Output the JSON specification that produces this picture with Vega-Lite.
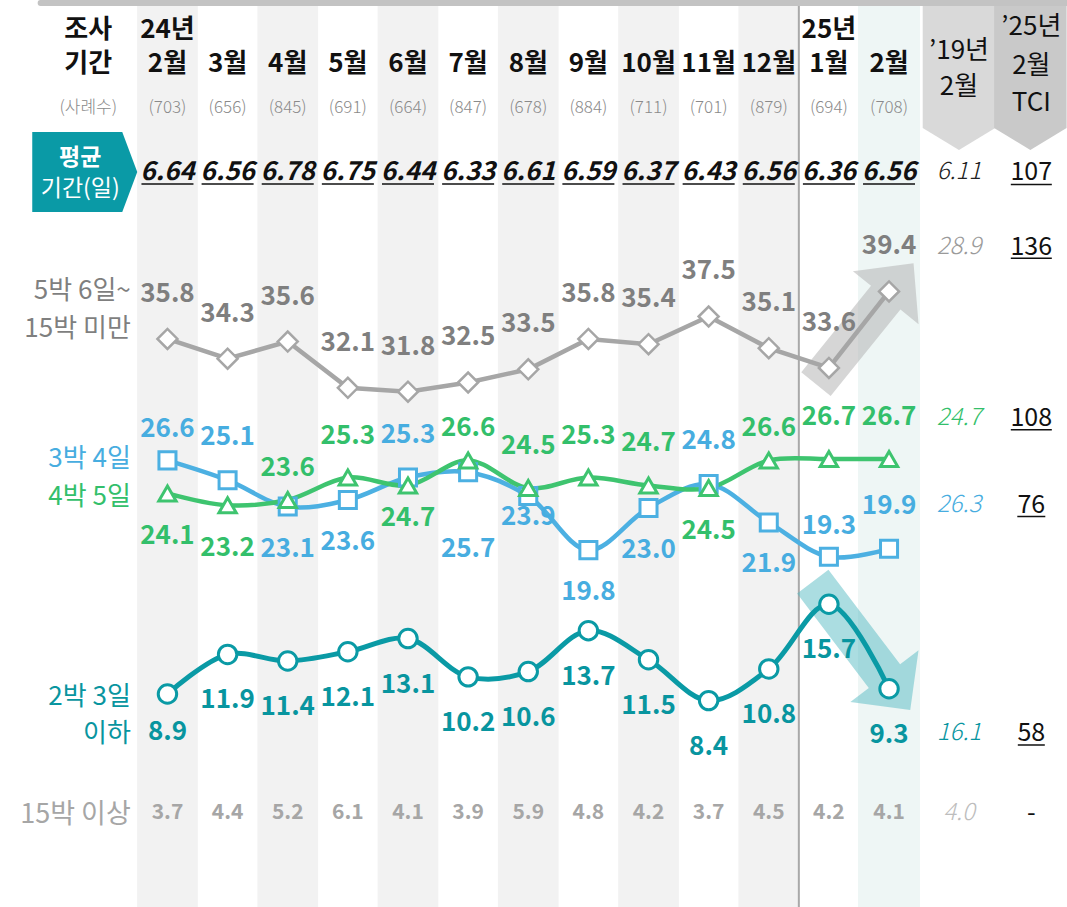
{
"$schema": "https://vega.github.io/schema/vega-lite/v6.json",
"width": 1067, "height": 907,
"autosize": {"type": "none"},
"padding": 0,
"background": "white",
"config": {"view": {"stroke": null}, "axis": {"disable": true}, "text": {"font": "Noto Sans CJK KR", "baseline": "middle"}},
"datasets": {
"months": [
{"i":0,"top":"24년","mon":"2월","n":703,"avg":6.64,"long":3.7},
{"i":1,"top":"","mon":"3월","n":656,"avg":6.56,"long":4.4},
{"i":2,"top":"","mon":"4월","n":845,"avg":6.78,"long":5.2},
{"i":3,"top":"","mon":"5월","n":691,"avg":6.75,"long":6.1},
{"i":4,"top":"","mon":"6월","n":664,"avg":6.44,"long":4.1},
{"i":5,"top":"","mon":"7월","n":847,"avg":6.33,"long":3.9},
{"i":6,"top":"","mon":"8월","n":678,"avg":6.61,"long":5.9},
{"i":7,"top":"","mon":"9월","n":884,"avg":6.59,"long":4.8},
{"i":8,"top":"","mon":"10월","n":711,"avg":6.37,"long":4.2},
{"i":9,"top":"","mon":"11월","n":701,"avg":6.43,"long":3.7},
{"i":10,"top":"","mon":"12월","n":879,"avg":6.56,"long":4.5},
{"i":11,"top":"25년","mon":"1월","n":694,"avg":6.36,"long":4.2},
{"i":12,"top":"","mon":"2월","n":708,"avg":6.56,"long":4.1}
],
"series": [
{"s":"5박 6일~15박 미만","i":0,"v":35.8},{"s":"5박 6일~15박 미만","i":1,"v":34.3},{"s":"5박 6일~15박 미만","i":2,"v":35.6},{"s":"5박 6일~15박 미만","i":3,"v":32.1},{"s":"5박 6일~15박 미만","i":4,"v":31.8},{"s":"5박 6일~15박 미만","i":5,"v":32.5},{"s":"5박 6일~15박 미만","i":6,"v":33.5},{"s":"5박 6일~15박 미만","i":7,"v":35.8},{"s":"5박 6일~15박 미만","i":8,"v":35.4},{"s":"5박 6일~15박 미만","i":9,"v":37.5},{"s":"5박 6일~15박 미만","i":10,"v":35.1},{"s":"5박 6일~15박 미만","i":11,"v":33.6},{"s":"5박 6일~15박 미만","i":12,"v":39.4},
{"s":"3박 4일","i":0,"v":26.6},{"s":"3박 4일","i":1,"v":25.1},{"s":"3박 4일","i":2,"v":23.1},{"s":"3박 4일","i":3,"v":23.6},{"s":"3박 4일","i":4,"v":25.3},{"s":"3박 4일","i":5,"v":25.7},{"s":"3박 4일","i":6,"v":23.9},{"s":"3박 4일","i":7,"v":19.8},{"s":"3박 4일","i":8,"v":23.0},{"s":"3박 4일","i":9,"v":24.8},{"s":"3박 4일","i":10,"v":21.9},{"s":"3박 4일","i":11,"v":19.3},{"s":"3박 4일","i":12,"v":19.9},
{"s":"4박 5일","i":0,"v":24.1},{"s":"4박 5일","i":1,"v":23.2},{"s":"4박 5일","i":2,"v":23.6},{"s":"4박 5일","i":3,"v":25.3},{"s":"4박 5일","i":4,"v":24.7},{"s":"4박 5일","i":5,"v":26.6},{"s":"4박 5일","i":6,"v":24.5},{"s":"4박 5일","i":7,"v":25.3},{"s":"4박 5일","i":8,"v":24.7},{"s":"4박 5일","i":9,"v":24.5},{"s":"4박 5일","i":10,"v":26.6},{"s":"4박 5일","i":11,"v":26.7},{"s":"4박 5일","i":12,"v":26.7},
{"s":"2박 3일 이하","i":0,"v":8.9},{"s":"2박 3일 이하","i":1,"v":11.9},{"s":"2박 3일 이하","i":2,"v":11.4},{"s":"2박 3일 이하","i":3,"v":12.1},{"s":"2박 3일 이하","i":4,"v":13.1},{"s":"2박 3일 이하","i":5,"v":10.2},{"s":"2박 3일 이하","i":6,"v":10.6},{"s":"2박 3일 이하","i":7,"v":13.7},{"s":"2박 3일 이하","i":8,"v":11.5},{"s":"2박 3일 이하","i":9,"v":8.4},{"s":"2박 3일 이하","i":10,"v":10.8},{"s":"2박 3일 이하","i":11,"v":15.7},{"s":"2박 3일 이하","i":12,"v":9.3}
],
"cmp": [
{"row":"평균 기간(일)","y2019":6.11,"tci":107},
{"row":"5박 6일~15박 미만","y2019":28.9,"tci":136},
{"row":"4박 5일","y2019":24.7,"tci":108},
{"row":"3박 4일","y2019":26.3,"tci":76},
{"row":"2박 3일 이하","y2019":16.1,"tci":58},
{"row":"15박 이상","y2019":4.0,"tci":"-"}
]
},
"layer": [
{"data":{"name":"months"},"transform":[{"filter":"datum.i % 2 == 0 && datum.i <= 10"}],"mark":{"type":"bar","width":60.7,"color":"#f2f2f2"},"encoding":{"x":{"field":"i","type":"quantitative","scale":{"type":"linear","domain":[-2.7018,14.8764],"nice":false,"zero":false}},"y":{"datum":61.02,"type":"quantitative","scale":{"type":"linear","domain":[-7.235,61.477],"nice":false,"zero":false}},"y2":{"datum":-7.3}}},
{"data":{"name":"months"},"transform":[{"filter":"datum.i == 12"}],"mark":{"type":"bar","width":62,"color":"#eef6f5"},"encoding":{"x":{"field":"i","type":"quantitative"},"y":{"datum":61.02,"type":"quantitative"},"y2":{"datum":-7.3}}},
{"data":{"values":[{}]},"mark":{"type":"rule","color":"#a9a9a9","strokeWidth":2},"encoding":{"x":{"datum":10.5,"type":"quantitative"},"y":{"datum":61.02,"type":"quantitative"},"y2":{"datum":-7.3}}},
{"data":{"values":[{}]},"mark":{"type":"point","shape":"M-0.5,-1L0.5,-1L0.5,0.697L0,1L-0.5,0.697Z","filled":true,"color":"#d9d9d9","opacity":1,"size":21025,"strokeWidth":0},"encoding":{"x":{"datum":13.163,"type":"quantitative"},"y":{"datum":55.606,"type":"quantitative"}}},
{"data":{"values":[{}]},"mark":{"type":"point","shape":"M-0.5,-1L0.5,-1L0.5,0.697L0,1L-0.5,0.697Z","filled":true,"color":"#c9c9c9","opacity":1,"size":21025,"strokeWidth":0},"encoding":{"x":{"datum":14.35,"type":"quantitative"},"y":{"datum":55.606,"type":"quantitative"}}},
{"data":{"values":[{}]},"mark":{"type":"rule","color":"#c3c3c3","strokeWidth":6,"strokeCap":"round"},"encoding":{"x":{"datum":-2.109,"type":"quantitative"},"x2":{"datum":15.2},"y":{"datum":61.25,"type":"quantitative"}}},
{"data":{"values":[{}]},"mark":{"type":"point","shape":"M-1,-0.762L0.714,-0.762L1,0L0.714,0.762L-1,0.762Z","filled":true,"color":"#0a9aa6","opacity":1,"size":11025,"strokeWidth":0},"encoding":{"x":{"datum":-1.3756,"type":"quantitative"},"y":{"datum":48.447,"type":"quantitative"}}},
{"data":{"values":[{}]},"mark":{"type":"point","shape":"M0,-1L0.543,-0.43L0.243,-0.43L0.243,1L-0.243,1L-0.243,-0.43L-0.543,-0.43Z","filled":true,"color":"#b5b5b5","opacity":0.55,"size":24149,"angle":38.9,"strokeWidth":0},"encoding":{"x":{"datum":11.596,"type":"quantitative"},"y":{"datum":36.955,"type":"quantitative"}}},
{"data":{"values":[{}]},"mark":{"type":"point","shape":"M0,-1L0.531,-0.471L0.244,-0.471L0.244,1L-0.244,1L-0.244,-0.471L-0.531,-0.471Z","filled":true,"color":"#4fb7c0","opacity":0.48,"size":25985,"angle":142.8,"strokeWidth":0},"encoding":{"x":{"datum":11.542,"type":"quantitative"},"y":{"datum":12.545,"type":"quantitative"}}},

{"data":{"name":"series"},"transform":[{"filter":{"field":"s","equal":"5박 6일~15박 미만"}}],"mark":{"type":"line","color":"#a6a6a6","strokeWidth":4.5,"interpolate":"linear"},"encoding":{"x":{"field":"i","type":"quantitative"},"y":{"field":"v","type":"quantitative"}}},
{"data":{"name":"series"},"transform":[{"filter":{"field":"s","equal":"3박 4일"}}],"mark":{"type":"line","color":"#4cb0e2","strokeWidth":4.5,"interpolate":"catmull-rom"},"encoding":{"x":{"field":"i","type":"quantitative"},"y":{"field":"v","type":"quantitative"}}},
{"data":{"name":"series"},"transform":[{"filter":{"field":"s","equal":"4박 5일"}}],"mark":{"type":"line","color":"#3ec46f","strokeWidth":4.5,"interpolate":"catmull-rom"},"encoding":{"x":{"field":"i","type":"quantitative"},"y":{"field":"v","type":"quantitative"}}},
{"data":{"name":"series"},"transform":[{"filter":{"field":"s","equal":"2박 3일 이하"}}],"mark":{"type":"line","color":"#0a9aa5","strokeWidth":5,"interpolate":"catmull-rom"},"encoding":{"x":{"field":"i","type":"quantitative"},"y":{"field":"v","type":"quantitative"}}},

{"data":{"name":"series"},"transform":[{"filter":{"field":"s","equal":"5박 6일~15박 미만"}}],"mark":{"type":"point","shape":"diamond","size":400,"filled":true,"fill":"white","stroke":"#a6a6a6","strokeWidth":2.5,"opacity":1},"encoding":{"x":{"field":"i","type":"quantitative"},"y":{"field":"v","type":"quantitative"}}},
{"data":{"name":"series"},"transform":[{"filter":{"field":"s","equal":"3박 4일"}}],"mark":{"type":"point","shape":"square","size":290,"filled":true,"fill":"white","stroke":"#4cb0e2","strokeWidth":3,"opacity":1},"encoding":{"x":{"field":"i","type":"quantitative"},"y":{"field":"v","type":"quantitative"}}},
{"data":{"name":"series"},"transform":[{"filter":{"field":"s","equal":"4박 5일"}}],"mark":{"type":"point","shape":"triangle-up","size":300,"filled":true,"fill":"white","stroke":"#3ec46f","strokeWidth":3,"opacity":1},"encoding":{"x":{"field":"i","type":"quantitative"},"y":{"field":"v","type":"quantitative"}}},
{"data":{"name":"series"},"transform":[{"filter":{"field":"s","equal":"2박 3일 이하"}}],"mark":{"type":"point","shape":"circle","size":340,"filled":true,"fill":"white","stroke":"#0a9aa5","strokeWidth":3,"opacity":1},"encoding":{"x":{"field":"i","type":"quantitative"},"y":{"field":"v","type":"quantitative"}}},

{"data":{"name":"series"},"transform":[{"filter":{"field":"s","equal":"5박 6일~15박 미만"}}],"mark":{"type":"text","dy":-45,"fontSize":26,"fontWeight":"bold","color":"#7f7f7f"},"encoding":{"x":{"field":"i","type":"quantitative"},"y":{"field":"v","type":"quantitative"},"text":{"field":"v","type":"quantitative","format":".1f"}}},
{"data":{"name":"series"},"transform":[{"filter":{"and":[{"field":"s","equal":"3박 4일"},{"field":"i","oneOf":[1,4,9,12]}]}}],"mark":{"type":"text","dy":-43,"fontSize":26,"fontWeight":"bold","color":"#47ade0"},"encoding":{"x":{"field":"i","type":"quantitative"},"y":{"field":"v","type":"quantitative"},"text":{"field":"v","type":"quantitative","format":".1f"}}},
{"data":{"name":"series"},"transform":[{"filter":{"and":[{"field":"s","equal":"3박 4일"},{"field":"i","oneOf":[0,11]}]}}],"mark":{"type":"text","dy":-31,"fontSize":26,"fontWeight":"bold","color":"#47ade0"},"encoding":{"x":{"field":"i","type":"quantitative"},"y":{"field":"v","type":"quantitative"},"text":{"field":"v","type":"quantitative","format":".1f"}}},
{"data":{"name":"series"},"transform":[{"filter":{"and":[{"field":"s","equal":"3박 4일"},{"field":"i","oneOf":[2,3,7,8,10]}]}}],"mark":{"type":"text","dy":42,"fontSize":26,"fontWeight":"bold","color":"#47ade0"},"encoding":{"x":{"field":"i","type":"quantitative"},"y":{"field":"v","type":"quantitative"},"text":{"field":"v","type":"quantitative","format":".1f"}}},
{"data":{"name":"series"},"transform":[{"filter":{"and":[{"field":"s","equal":"3박 4일"},{"field":"i","oneOf":[5]}]}}],"mark":{"type":"text","dy":77,"fontSize":26,"fontWeight":"bold","color":"#47ade0"},"encoding":{"x":{"field":"i","type":"quantitative"},"y":{"field":"v","type":"quantitative"},"text":{"field":"v","type":"quantitative","format":".1f"}}},
{"data":{"name":"series"},"transform":[{"filter":{"and":[{"field":"s","equal":"3박 4일"},{"field":"i","oneOf":[6]}]}}],"mark":{"type":"text","dy":21,"fontSize":26,"fontWeight":"bold","color":"#47ade0"},"encoding":{"x":{"field":"i","type":"quantitative"},"y":{"field":"v","type":"quantitative"},"text":{"field":"v","type":"quantitative","format":".1f"}}},
{"data":{"name":"series"},"transform":[{"filter":{"and":[{"field":"s","equal":"4박 5일"},{"field":"i","oneOf":[3,6,7,8,11,12]}]}}],"mark":{"type":"text","dy":-42,"fontSize":26,"fontWeight":"bold","color":"#33bf6b"},"encoding":{"x":{"field":"i","type":"quantitative"},"y":{"field":"v","type":"quantitative"},"text":{"field":"v","type":"quantitative","format":".1f"}}},
{"data":{"name":"series"},"transform":[{"filter":{"and":[{"field":"s","equal":"4박 5일"},{"field":"i","oneOf":[2,5,10]}]}}],"mark":{"type":"text","dy":-32,"fontSize":26,"fontWeight":"bold","color":"#33bf6b"},"encoding":{"x":{"field":"i","type":"quantitative"},"y":{"field":"v","type":"quantitative"},"text":{"field":"v","type":"quantitative","format":".1f"}}},
{"data":{"name":"series"},"transform":[{"filter":{"and":[{"field":"s","equal":"4박 5일"},{"field":"i","oneOf":[0,1,9]}]}}],"mark":{"type":"text","dy":43,"fontSize":26,"fontWeight":"bold","color":"#33bf6b"},"encoding":{"x":{"field":"i","type":"quantitative"},"y":{"field":"v","type":"quantitative"},"text":{"field":"v","type":"quantitative","format":".1f"}}},
{"data":{"name":"series"},"transform":[{"filter":{"and":[{"field":"s","equal":"4박 5일"},{"field":"i","oneOf":[4]}]}}],"mark":{"type":"text","dy":33,"fontSize":26,"fontWeight":"bold","color":"#33bf6b"},"encoding":{"x":{"field":"i","type":"quantitative"},"y":{"field":"v","type":"quantitative"},"text":{"field":"v","type":"quantitative","format":".1f"}}},
{"data":{"name":"series"},"transform":[{"filter":{"and":[{"field":"s","equal":"2박 3일 이하"},{"field":"i","oneOf":[1,2,3,4,5,6,7,8,9,10,11,12]}]}}],"mark":{"type":"text","dy":46,"fontSize":26,"fontWeight":"bold","color":"#08959f"},"encoding":{"x":{"field":"i","type":"quantitative"},"y":{"field":"v","type":"quantitative"},"text":{"field":"v","type":"quantitative","format":".1f"}}},
{"data":{"name":"series"},"transform":[{"filter":{"and":[{"field":"s","equal":"2박 3일 이하"},{"field":"i","oneOf":[0]}]}}],"mark":{"type":"text","dy":38,"fontSize":26,"fontWeight":"bold","color":"#08959f"},"encoding":{"x":{"field":"i","type":"quantitative"},"y":{"field":"v","type":"quantitative"},"text":{"field":"v","type":"quantitative","format":".1f"}}},

{"data":{"name":"months"},"transform":[{"filter":"datum.top != ''"}],"mark":{"type":"text","fontSize":26,"fontWeight":"bold","color":"#111111"},"encoding":{"x":{"field":"i","type":"quantitative"},"y":{"datum":59.2,"type":"quantitative"},"text":{"field":"top","type":"nominal"}}},
{"data":{"name":"months"},"mark":{"type":"text","fontSize":26,"fontWeight":"bold","color":"#111111"},"encoding":{"x":{"field":"i","type":"quantitative"},"y":{"datum":56.63,"type":"quantitative"},"text":{"field":"mon","type":"nominal"}}},
{"data":{"name":"months"},"transform":[{"calculate":"'(' + datum.n + ')'","as":"nLabel"}],"mark":{"type":"text","fontSize":17,"fontWeight":300,"color":"#8a8a8a"},"encoding":{"x":{"field":"i","type":"quantitative"},"y":{"datum":53.295,"type":"quantitative"},"text":{"field":"nLabel","type":"nominal"}}},
{"data":{"name":"months"},"mark":{"type":"text","fontSize":26,"fontWeight":"bold","fontStyle":"italic","color":"#111111"},"encoding":{"x":{"field":"i","type":"quantitative"},"y":{"datum":48.409,"type":"quantitative"},"text":{"field":"avg","type":"quantitative","format":".2f"}}},
{"data":{"name":"months"},"mark":{"type":"tick","orient":"horizontal","size":52,"thickness":1.5,"color":"#111111","opacity":1},"encoding":{"x":{"field":"i","type":"quantitative"},"y":{"datum":47.538,"type":"quantitative"}}},
{"data":{"name":"months"},"mark":{"type":"text","fontSize":21,"fontWeight":"bold","color":"#a6a6a6"},"encoding":{"x":{"field":"i","type":"quantitative"},"y":{"datum":-0.114,"type":"quantitative"},"text":{"field":"long","type":"quantitative","format":".1f"}}},

{"data":{"values":[{}]},"mark":{"type":"text","text":"조사","fontSize":26,"fontWeight":"bold","color":"#111111"},"encoding":{"x":{"datum":-1.318,"type":"quantitative"},"y":{"datum":59.2,"type":"quantitative"}}},
{"data":{"values":[{}]},"mark":{"type":"text","text":"기간","fontSize":26,"fontWeight":"bold","color":"#111111"},"encoding":{"x":{"datum":-1.318,"type":"quantitative"},"y":{"datum":56.63,"type":"quantitative"}}},
{"data":{"values":[{}]},"mark":{"type":"text","text":"(사례수)","fontSize":17,"fontWeight":300,"color":"#8a8a8a"},"encoding":{"x":{"datum":-1.318,"type":"quantitative"},"y":{"datum":53.295,"type":"quantitative"}}},
{"data":{"values":[{}]},"mark":{"type":"text","text":"평균","fontSize":23,"fontWeight":"bold","color":"white"},"encoding":{"x":{"datum":-1.45,"type":"quantitative"},"y":{"datum":49.508,"type":"quantitative"}}},
{"data":{"values":[{}]},"mark":{"type":"text","text":"기간(일)","fontSize":23,"fontWeight":"normal","color":"white"},"encoding":{"x":{"datum":-1.45,"type":"quantitative"},"y":{"datum":47.159,"type":"quantitative"}}},
{"data":{"values":[{}]},"mark":{"type":"text","text":"5박 6일~","align":"right","fontSize":26,"color":"#7f7f7f"},"encoding":{"x":{"datum":-0.6096,"type":"quantitative"},"y":{"datum":39.432,"type":"quantitative"}}},
{"data":{"values":[{}]},"mark":{"type":"text","text":"15박 미만","align":"right","fontSize":26,"color":"#7f7f7f"},"encoding":{"x":{"datum":-0.6096,"type":"quantitative"},"y":{"datum":36.553,"type":"quantitative"}}},
{"data":{"values":[{}]},"mark":{"type":"text","text":"3박 4일","align":"right","fontSize":26,"color":"#47ade0"},"encoding":{"x":{"datum":-0.6096,"type":"quantitative"},"y":{"datum":26.705,"type":"quantitative"}}},
{"data":{"values":[{}]},"mark":{"type":"text","text":"4박 5일","align":"right","fontSize":26,"color":"#33bf6b"},"encoding":{"x":{"datum":-0.6096,"type":"quantitative"},"y":{"datum":23.826,"type":"quantitative"}}},
{"data":{"values":[{}]},"mark":{"type":"text","text":"2박 3일","align":"right","fontSize":26,"color":"#08959f"},"encoding":{"x":{"datum":-0.6096,"type":"quantitative"},"y":{"datum":8.674,"type":"quantitative"}}},
{"data":{"values":[{}]},"mark":{"type":"text","text":"이하","align":"right","fontSize":26,"color":"#08959f"},"encoding":{"x":{"datum":-0.6096,"type":"quantitative"},"y":{"datum":5.871,"type":"quantitative"}}},
{"data":{"values":[{}]},"mark":{"type":"text","text":"15박 이상","align":"right","fontSize":27,"color":"#a6a6a6"},"encoding":{"x":{"datum":-0.6096,"type":"quantitative"},"y":{"datum":-0.265,"type":"quantitative"}}},

{"data":{"values":[{}]},"mark":{"type":"text","text":"’19년","fontSize":26,"color":"#111111"},"encoding":{"x":{"datum":13.163,"type":"quantitative"},"y":{"datum":57.6,"type":"quantitative"}}},
{"data":{"values":[{}]},"mark":{"type":"text","text":"2월","fontSize":26,"color":"#111111"},"encoding":{"x":{"datum":13.163,"type":"quantitative"},"y":{"datum":54.9,"type":"quantitative"}}},
{"data":{"values":[{}]},"mark":{"type":"text","text":"’25년","fontSize":26,"color":"#111111"},"encoding":{"x":{"datum":14.366,"type":"quantitative"},"y":{"datum":59.45,"type":"quantitative"}}},
{"data":{"values":[{}]},"mark":{"type":"text","text":"2월","fontSize":26,"color":"#111111"},"encoding":{"x":{"datum":14.366,"type":"quantitative"},"y":{"datum":56.5,"type":"quantitative"}}},
{"data":{"values":[{}]},"mark":{"type":"text","text":"TCI","fontSize":26,"color":"#111111"},"encoding":{"x":{"datum":14.366,"type":"quantitative"},"y":{"datum":53.67,"type":"quantitative"}}},

{"data":{"name":"cmp"},"transform":[{"filter":{"field":"row","equal":"평균 기간(일)"}}],"mark":{"type":"text","fontSize":24,"fontWeight":300,"fontStyle":"italic","color":"#222222"},"encoding":{"x":{"datum":13.163,"type":"quantitative"},"y":{"datum":48.409,"type":"quantitative"},"text":{"field":"y2019","type":"quantitative","format":".2f"}}},
{"data":{"name":"cmp"},"transform":[{"filter":{"field":"row","equal":"5박 6일~15박 미만"}}],"mark":{"type":"text","fontSize":24,"fontWeight":300,"fontStyle":"italic","color":"#9a9a9a"},"encoding":{"x":{"datum":13.163,"type":"quantitative"},"y":{"datum":42.788,"type":"quantitative"},"text":{"field":"y2019","type":"quantitative","format":".1f"}}},
{"data":{"name":"cmp"},"transform":[{"filter":{"field":"row","equal":"4박 5일"}}],"mark":{"type":"text","fontSize":24,"fontWeight":300,"fontStyle":"italic","color":"#33bf6b"},"encoding":{"x":{"datum":13.163,"type":"quantitative"},"y":{"datum":29.788,"type":"quantitative"},"text":{"field":"y2019","type":"quantitative","format":".1f"}}},
{"data":{"name":"cmp"},"transform":[{"filter":{"field":"row","equal":"3박 4일"}}],"mark":{"type":"text","fontSize":24,"fontWeight":300,"fontStyle":"italic","color":"#47ade0"},"encoding":{"x":{"datum":13.163,"type":"quantitative"},"y":{"datum":23.22,"type":"quantitative"},"text":{"field":"y2019","type":"quantitative","format":".1f"}}},
{"data":{"name":"cmp"},"transform":[{"filter":{"field":"row","equal":"2박 3일 이하"}}],"mark":{"type":"text","fontSize":24,"fontWeight":300,"fontStyle":"italic","color":"#08959f"},"encoding":{"x":{"datum":13.163,"type":"quantitative"},"y":{"datum":5.924,"type":"quantitative"},"text":{"field":"y2019","type":"quantitative","format":".1f"}}},
{"data":{"name":"cmp"},"transform":[{"filter":{"field":"row","equal":"15박 이상"}}],"mark":{"type":"text","fontSize":24,"fontWeight":300,"fontStyle":"italic","color":"#bdbdbd"},"encoding":{"x":{"datum":13.163,"type":"quantitative"},"y":{"datum":-0.136,"type":"quantitative"},"text":{"field":"y2019","type":"quantitative","format":".1f"}}},

{"data":{"name":"cmp"},"transform":[{"filter":{"field":"row","equal":"평균 기간(일)"}}],"mark":{"type":"text","fontSize":25,"color":"#111111"},"encoding":{"x":{"datum":14.366,"type":"quantitative"},"y":{"datum":48.409,"type":"quantitative"},"text":{"field":"tci","type":"nominal"}}},
{"data":{"name":"cmp"},"transform":[{"filter":{"field":"row","equal":"5박 6일~15박 미만"}}],"mark":{"type":"text","fontSize":25,"color":"#111111"},"encoding":{"x":{"datum":14.366,"type":"quantitative"},"y":{"datum":42.788,"type":"quantitative"},"text":{"field":"tci","type":"nominal"}}},
{"data":{"name":"cmp"},"transform":[{"filter":{"field":"row","equal":"4박 5일"}}],"mark":{"type":"text","fontSize":25,"color":"#111111"},"encoding":{"x":{"datum":14.366,"type":"quantitative"},"y":{"datum":29.788,"type":"quantitative"},"text":{"field":"tci","type":"nominal"}}},
{"data":{"name":"cmp"},"transform":[{"filter":{"field":"row","equal":"3박 4일"}}],"mark":{"type":"text","fontSize":25,"color":"#111111"},"encoding":{"x":{"datum":14.366,"type":"quantitative"},"y":{"datum":23.22,"type":"quantitative"},"text":{"field":"tci","type":"nominal"}}},
{"data":{"name":"cmp"},"transform":[{"filter":{"field":"row","equal":"2박 3일 이하"}}],"mark":{"type":"text","fontSize":25,"color":"#111111"},"encoding":{"x":{"datum":14.366,"type":"quantitative"},"y":{"datum":5.924,"type":"quantitative"},"text":{"field":"tci","type":"nominal"}}},
{"data":{"name":"cmp"},"transform":[{"filter":{"field":"row","equal":"15박 이상"}}],"mark":{"type":"text","fontSize":25,"color":"#111111"},"encoding":{"x":{"datum":14.366,"type":"quantitative"},"y":{"datum":-0.136,"type":"quantitative"},"text":{"field":"tci","type":"nominal"}}},

{"data":{"values":[{}]},"mark":{"type":"tick","orient":"horizontal","size":41,"thickness":1.5,"color":"#111111","opacity":1},"encoding":{"x":{"datum":14.366,"type":"quantitative"},"y":{"datum":47.5,"type":"quantitative"}}},
{"data":{"values":[{}]},"mark":{"type":"tick","orient":"horizontal","size":41,"thickness":1.5,"color":"#111111","opacity":1},"encoding":{"x":{"datum":14.366,"type":"quantitative"},"y":{"datum":41.909,"type":"quantitative"}}},
{"data":{"values":[{}]},"mark":{"type":"tick","orient":"horizontal","size":41,"thickness":1.5,"color":"#111111","opacity":1},"encoding":{"x":{"datum":14.366,"type":"quantitative"},"y":{"datum":28.917,"type":"quantitative"}}},
{"data":{"values":[{}]},"mark":{"type":"tick","orient":"horizontal","size":28,"thickness":1.5,"color":"#111111","opacity":1},"encoding":{"x":{"datum":14.366,"type":"quantitative"},"y":{"datum":22.348,"type":"quantitative"}}},
{"data":{"values":[{}]},"mark":{"type":"tick","orient":"horizontal","size":27,"thickness":1.5,"color":"#111111","opacity":1},"encoding":{"x":{"datum":14.366,"type":"quantitative"},"y":{"datum":5.038,"type":"quantitative"}}}
]
}
